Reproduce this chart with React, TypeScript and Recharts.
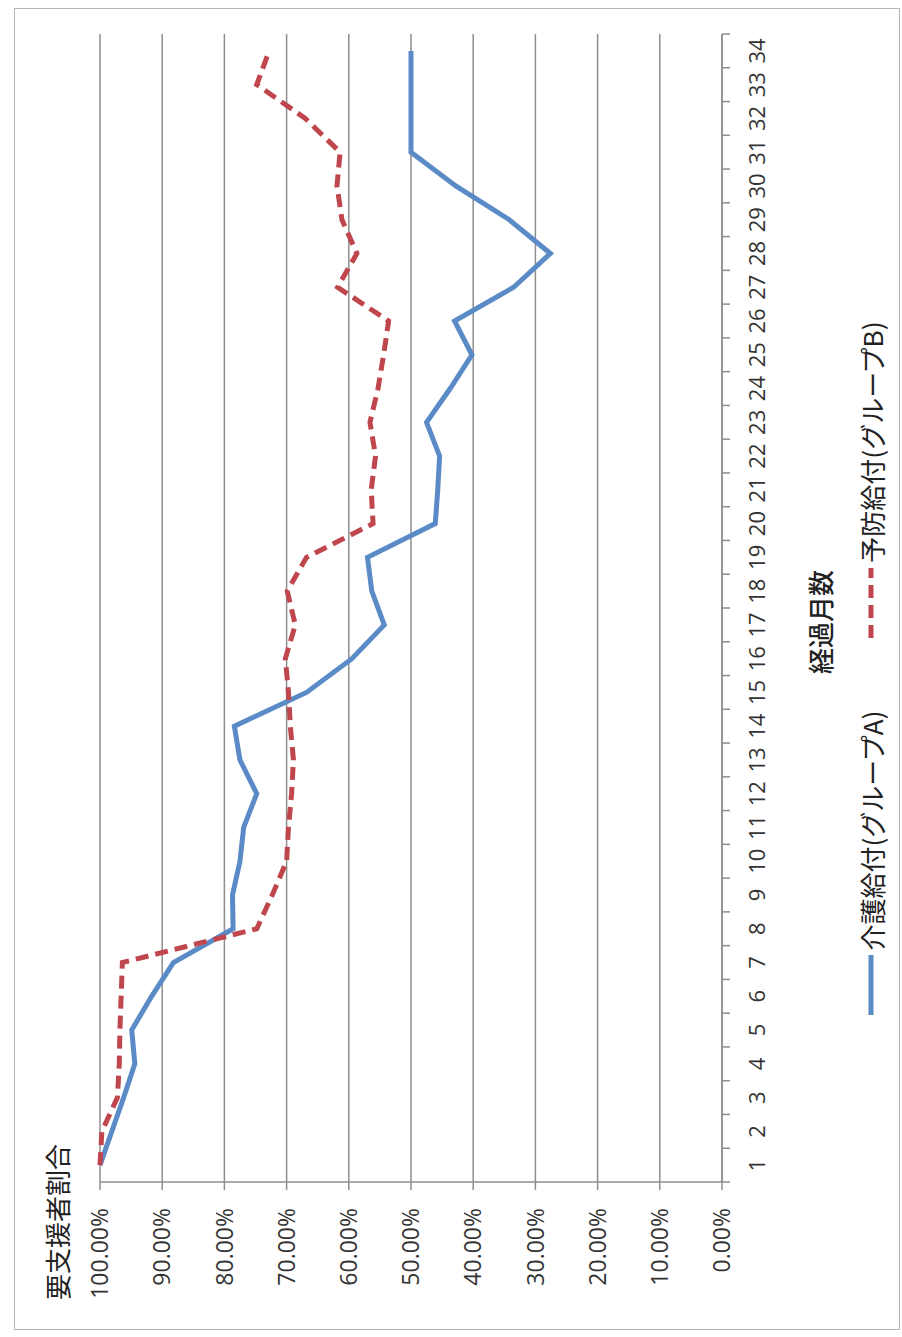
import React from "react";
import { LineChart, Line, XAxis, YAxis, CartesianGrid } from "recharts";

// months elapsed (経過月数)
const MONTHS = [
  1, 2, 3, 4, 5, 6, 7, 8, 9, 10, 11, 12, 13, 14, 15, 16, 17, 18, 19, 20, 21,
  22, 23, 24, 25, 26, 27, 28, 29, 30, 31, 32, 33, 34,
];
// 介護給付(グループA), percent
const GROUP_A = [
  100, 98.1, 96.2, 94.4, 94.9, 91.7, 88.2, 78.6, 78.7, 77.5, 76.9, 74.8, 77.5,
  78.4, 66.8, 59.5, 54.3, 56.3, 57.0, 46.1, 45.7, 45.4, 47.5, 43.7, 40.2, 43.0,
  33.5, 27.6, 34.2, 42.8, 50.0, 50.0, 50.0, 50.0,
];
// 予防給付(グループB), percent
const GROUP_B = [
  100, 99.7, 97.2, 96.9, 96.8, 96.6, 96.4, 74.8, 72.3, 70.0, 69.7, 69.2, 68.9,
  69.4, 69.7, 70.2, 68.6, 69.9, 66.8, 56.1, 56.4, 55.7, 56.6, 55.3, 54.4, 53.6,
  61.8, 58.7, 61.1, 61.9, 61.4, 67.0, 74.8, 72.8,
];
const PERCENT_TICKS = [0, 10, 20, 30, 40, 50, 60, 70, 80, 90, 100];

const NAME_A = "介護給付(グループA)";
const NAME_B = "予防給付(グループB)";
const Y_TITLE = "要支援者割合";
const X_TITLE = "経過月数";

const BLUE = "#5b8bc7";
const RED = "#c0464e";
const GRID = "#8e8e8e";
const CJK = "'Noto Sans CJK JP', sans-serif";
const LATIN = "'Open Sans', sans-serif";

const W = 1337;
const H = 902;

const data = MONTHS.map((m, i) => ({ month: m, a: GROUP_A[i], b: GROUP_B[i] }));

// labels on whole months, tick marks between months
const monthTicks = [...MONTHS, ...MONTHS.map((m) => m - 0.5), MONTHS[MONTHS.length - 1] + 0.5].sort(
  (p, q) => p - q
);

const MonthTick = (props: any) => {
  const { x, y, payload } = props;
  const v = payload.value;
  if (!Number.isInteger(v)) {
    return <line x1={x} y1={y} x2={x} y2={y + 8} stroke={GRID} strokeWidth={1.5} />;
  }
  return (
    <text x={x} y={y + 27} dy="0.71em" textAnchor="middle" fontSize={22} fill="#333" fontFamily={LATIN}>
      {v}
    </text>
  );
};

// legend is plain html: the rotated wrapper would confuse recharts' legend measuring
const ChartLegend = () => (
  <div
    style={{
      position: "absolute",
      left: 0,
      top: H - 51,
      width: W,
      height: 40,
      display: "flex",
      justifyContent: "center",
      alignItems: "center",
      gap: 73,
      fontFamily: CJK,
      fontSize: 26,
      color: "#222",
      whiteSpace: "nowrap",
    }}
  >
    <div style={{ display: "flex", alignItems: "center" }}>
      <svg width={60} height={10}>
        <line x1={0} y1={5} x2={60} y2={5} stroke={BLUE} strokeWidth={5} />
      </svg>
      <span style={{ marginLeft: 5 }}>{NAME_A}</span>
    </div>
    <div style={{ display: "flex", alignItems: "center" }}>
      <svg width={70} height={10}>
        <line x1={0} y1={5} x2={70} y2={5} stroke={RED} strokeWidth={5} strokeDasharray="13 7" />
      </svg>
      <span style={{ marginLeft: 5 }}>{NAME_B}</span>
    </div>
  </div>
);

export default function App() {
  return (
    <div
      style={{
        position: "absolute",
        left: 0,
        top: 0,
        width: 902,
        height: 1337,
        background: "#fff",
        overflow: "hidden",
      }}
    >
      <div
        style={{
          position: "absolute",
          left: 14,
          top: 8,
          width: 886,
          height: 1322,
          border: "1px solid #b5b5b5",
          boxSizing: "border-box",
        }}
      />
      <div
        style={{
          position: "absolute",
          left: 0,
          top: 0,
          width: W,
          height: H,
          transformOrigin: "0 0",
          transform: `translate(0px, ${W}px) rotate(-90deg)`,
        }}
      >
        <LineChart width={W} height={H} data={data} margin={{ top: 100, right: 34, bottom: 51, left: 55 }}>
          <CartesianGrid vertical={false} stroke={GRID} strokeWidth={1.5} />
          <XAxis
            dataKey="month"
            type="number"
            domain={[0.5, 34.5]}
            ticks={monthTicks}
            interval={0}
            height={129}
            tickSize={0}
            tickMargin={0}
            tickLine={false}
            tick={<MonthTick />}
            axisLine={{ stroke: GRID, strokeWidth: 1.5 }}
            label={{
              value: X_TITLE,
              content: (p: any) => (
                <text
                  x={p.viewBox.x + p.viewBox.width / 2 - 14}
                  y={p.viewBox.y + 97}
                  dominantBaseline="central"
                  textAnchor="middle"
                  fontSize={26}
                  fontWeight={500}
                  fontFamily={CJK}
                  fill="#222"
                >
                  {X_TITLE}
                </text>
              ),
            }}
          />
          <YAxis
            type="number"
            domain={[0, 100]}
            ticks={PERCENT_TICKS}
            interval={0}
            width={100}
            tickSize={8}
            tickMargin={18}
            tickFormatter={(v: number) => `${v.toFixed(2)}%`}
            tick={{ fontSize: 23, fill: "#333", fontFamily: LATIN }}
            tickLine={{ stroke: GRID, strokeWidth: 1.5 }}
            axisLine={{ stroke: GRID, strokeWidth: 1.5 }}
            label={{
              value: Y_TITLE,
              content: (p: any) => (
                <text
                  x={p.viewBox.x - 18}
                  y={p.viewBox.y - 44}
                  dominantBaseline="central"
                  textAnchor="start"
                  fontSize={26}
                  fontFamily={CJK}
                  fill="#222"
                >
                  {Y_TITLE}
                </text>
              ),
            }}
          />
          <Line
            dataKey="a"
            name={NAME_A}
            type="linear"
            stroke={BLUE}
            strokeWidth={5}
            dot={false}
            isAnimationActive={false}
          />
          <Line
            dataKey="b"
            name={NAME_B}
            type="linear"
            stroke={RED}
            strokeWidth={5}
            strokeDasharray="13 7"
            dot={false}
            isAnimationActive={false}
          />
        </LineChart>
        <ChartLegend />
      </div>
    </div>
  );
}
